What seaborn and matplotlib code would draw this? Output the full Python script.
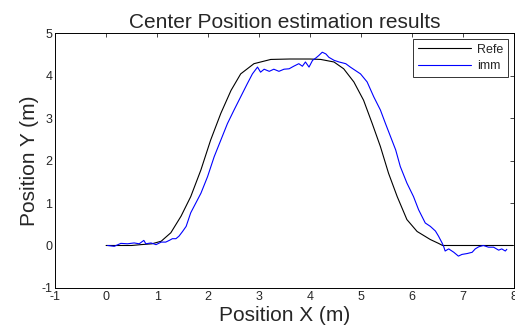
import numpy as np
import pandas as pd
import matplotlib
matplotlib.use('Agg')
import matplotlib.pyplot as plt
import seaborn as sns

# trayectoria de referencia
ref_x = [0.0, 0.5, 0.68, 0.9, 1.08, 1.27, 1.47, 1.66, 1.86, 2.05, 2.25, 2.45, 2.64, 2.90,
         3.23, 3.6, 4.0, 4.21, 4.47, 4.66, 4.86, 5.05, 5.22, 5.38, 5.54, 5.71, 5.90,
         6.10, 6.36, 6.52, 6.60, 7.0, 7.5, 7.98]
ref_y = [0.0, 0.0, 0.02, 0.04, 0.10, 0.30, 0.69, 1.15, 1.78, 2.48, 3.11, 3.65, 4.04, 4.28,
         4.38, 4.39, 4.39, 4.38, 4.32, 4.16, 3.85, 3.42, 2.87, 2.33, 1.70, 1.15, 0.61,
         0.33, 0.14, 0.05, 0.0, 0.0, 0.0, 0.0]

# estimacion imm
imm_x = [0.03, 0.16, 0.29, 0.42, 0.55, 0.65, 0.74, 0.78, 0.88, 0.98, 1.08, 1.17, 1.24,
         1.30, 1.37, 1.43, 1.50, 1.57, 1.66, 1.76, 1.86, 1.99, 2.12, 2.25, 2.38, 2.51,
         2.64, 2.77, 2.87, 2.97, 3.03, 3.10, 3.20, 3.29, 3.39, 3.49, 3.59, 3.68, 3.78,
         3.85, 3.91, 3.98, 4.05, 4.11, 4.17, 4.24, 4.31, 4.37, 4.47, 4.57, 4.70, 4.79,
         4.99, 5.12, 5.25, 5.38, 5.48, 5.58, 5.68, 5.77, 5.90, 6.03, 6.13, 6.26, 6.36,
         6.46, 6.52, 6.59, 6.62, 6.65, 6.72, 6.82, 6.91, 6.98, 7.08, 7.18, 7.24, 7.31,
         7.40, 7.50, 7.60, 7.70, 7.76, 7.83, 7.86]
imm_y = [0.0, -0.02, 0.05, 0.04, 0.06, 0.04, 0.12, 0.04, 0.06, 0.02, 0.08, 0.08, 0.12,
         0.16, 0.16, 0.22, 0.33, 0.45, 0.77, 1.00, 1.23, 1.62, 2.09, 2.48, 2.87, 3.19,
         3.50, 3.81, 4.04, 4.20, 4.08, 4.15, 4.10, 4.15, 4.10, 4.15, 4.16, 4.22, 4.28,
         4.22, 4.32, 4.20, 4.36, 4.41, 4.47, 4.55, 4.51, 4.43, 4.36, 4.32, 4.28, 4.20,
         4.04, 3.85, 3.50, 3.19, 2.87, 2.56, 2.25, 1.86, 1.47, 1.15, 0.84, 0.53, 0.45,
         0.34, 0.22, 0.06, -0.02, -0.13, -0.08, -0.16, -0.25, -0.21, -0.19, -0.16, -0.08,
         -0.03, 0.0, -0.04, -0.04, -0.11, -0.08, -0.13, -0.09]

sns.set_style('white')
plt.rcParams['font.family'] = ['Liberation Sans', 'DejaVu Sans']
plt.rcParams['xtick.direction'] = 'in'
plt.rcParams['ytick.direction'] = 'in'
plt.rcParams['axes.unicode_minus'] = False

fig = plt.figure(figsize=(5.15, 3.31), dpi=100)
ax = fig.add_axes([0.107, 0.130, 0.891, 0.770])

df_ref = pd.DataFrame({'x': ref_x, 'y': ref_y})
df_imm = pd.DataFrame({'x': imm_x, 'y': imm_y})
sns.lineplot(data=df_ref, x='x', y='y', sort=False, estimator=None, color='black',
             linewidth=0.8, label='Refe', ax=ax)
sns.lineplot(data=df_imm, x='x', y='y', sort=False, estimator=None, color='#0000ff',
             linewidth=0.8, label='imm', ax=ax)

ax.set_xlim(-1, 8)
ax.set_ylim(-1, 5)
ax.set_xticks(range(-1, 9))
ax.set_yticks(range(-1, 6))
ax.tick_params(labelsize=9, length=3, width=0.6, top=True, right=True, pad=2)
for s in ax.spines.values():
    s.set_color('black')
    s.set_linewidth(0.7)

ax.set_title('Center Position estimation results', fontsize=15, pad=4)
ax.set_xlabel('Position X (m)', fontsize=15, labelpad=2)
ax.set_ylabel('Position Y (m)', fontsize=15, labelpad=2)

leg = ax.legend(loc='upper right', fontsize=9, frameon=True, fancybox=False,
                handlelength=4.2, borderaxespad=0.45, labelspacing=0.35, borderpad=0.4,
                handletextpad=0.5)
leg.get_frame().set_edgecolor('black')
leg.get_frame().set_linewidth(0.7)

fig.savefig('out.png', dpi=100)
